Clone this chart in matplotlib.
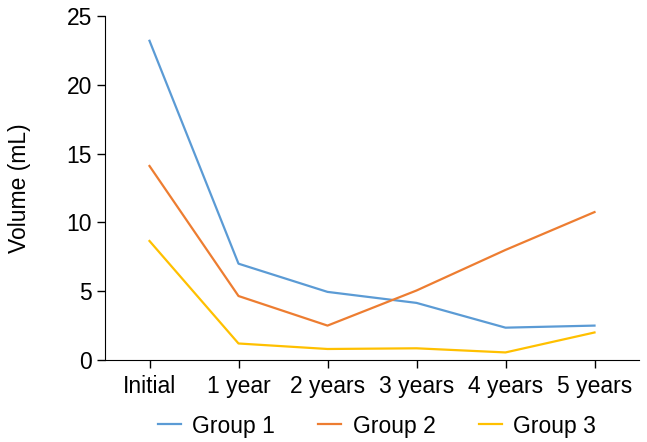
import matplotlib.pyplot as plt

plt.rcParams["font.family"] = ["Liberation Sans", "DejaVu Sans"]

categories = ["Initial", "1 year", "2 years", "3 years", "4 years", "5 years"]
group1 = [23.2, 7.0, 4.95, 4.15, 2.35, 2.5]
group2 = [14.1, 4.65, 2.5, 5.05, 8.0, 10.75]
group3 = [8.65, 1.2, 0.8, 0.85, 0.55, 2.0]

fig = plt.figure(figsize=(6.47, 4.42), dpi=100)
ax = fig.add_axes([105 / 647, 1 - 360 / 442, 534 / 647, 344 / 442])

x = range(len(categories))
ax.plot(x, group1, color="#5B9BD5", lw=1.6, label="Group 1")
ax.plot(x, group2, color="#ED7D31", lw=1.6, label="Group 2")
ax.plot(x, group3, color="#FFC000", lw=1.6, label="Group 3")

ax.set_xlim(-0.5, 5.5)
ax.set_ylim(0, 25)
ax.set_xticks(list(x))
ax.set_xticklabels(categories)
ax.set_yticks([0, 5, 10, 15, 20, 25])
ax.tick_params(labelsize=16.5, direction="out", length=6, width=1, colors="black")
ax.tick_params(axis="x", pad=5)
ax.set_ylabel("Volume (mL)", fontsize=16.5)
ax.yaxis.set_label_coords(-0.138, 0.5)

for side in ["top", "right"]:
    ax.spines[side].set_visible(False)
ax.spines["left"].set_bounds(0, 25)

fig.legend(loc="center", bbox_to_anchor=(377 / 647, 1 - 426 / 442), ncol=3,
           frameon=False, fontsize=16.5, handlelength=1.0, columnspacing=1.9,
           handletextpad=0.5)

plt.savefig("out.png", dpi=100)
